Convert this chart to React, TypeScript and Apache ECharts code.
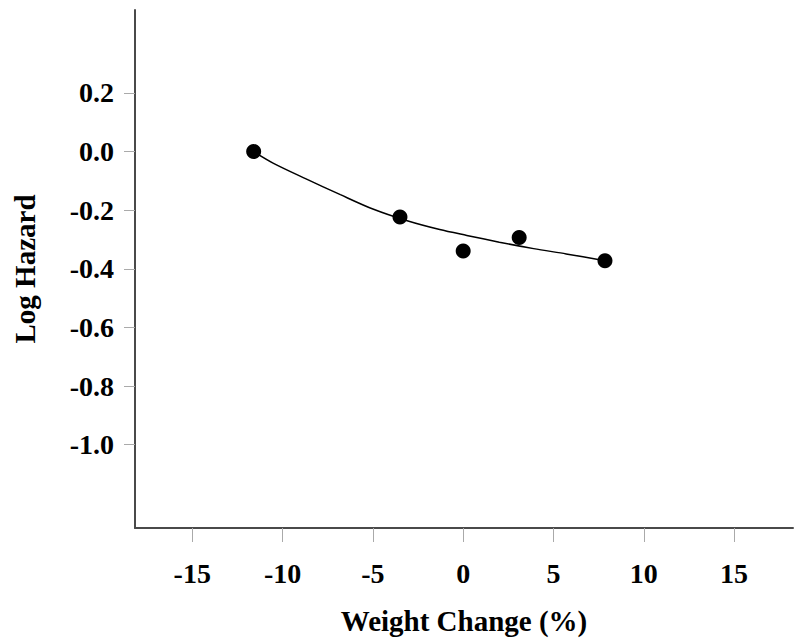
import React, { useEffect, useRef } from "react";
import * as echarts from "echarts";

const pointX = [-11.6, -3.5, 0.0, 3.1, 7.85];
const pointY = [0.0, -0.223, -0.339, -0.293, -0.372];

const curveX = [-11.6, -10.5, -8.7, -6.8, -5.0, -3.1, -1.3, 0.2, 2.0, 3.9, 5.7, 7.85];
const curveY = [0.0, -0.04, -0.093, -0.147, -0.196, -0.236, -0.266, -0.286, -0.309, -0.331, -0.349, -0.372];

const xTicks = [-15, -10, -5, 0, 5, 10, 15];
const yTicks = [0.2, 0.0, -0.2, -0.4, -0.6, -0.8, -1.0];

export default function App() {
  const ref = useRef<HTMLDivElement>(null);
  useEffect(() => {
    if (!ref.current) return;
    const chart = echarts.init(ref.current, undefined, { renderer: "svg" });
    const font = "Liberation Serif";
    chart.setOption({
      animation: false,
      backgroundColor: "#ffffff",
      grid: { left: 135, right: 7, top: 10, bottom: 110, outerBoundsMode: "none", containLabel: false },
      xAxis: {
        type: "value",
        min: -18.17,
        max: 18.26,
        name: "Weight Change (%)",
        nameLocation: "middle",
        nameGap: 78,
        nameTextStyle: { fontFamily: font, fontWeight: "bold", fontSize: 29, color: "#000" },
        axisLine: { show: true, onZero: false, lineStyle: { color: "#4a4a4a", width: 2 } },
        axisTick: { show: true, length: 14, customValues: xTicks, lineStyle: { color: "#aaaaaa", width: 1 } },
        axisLabel: {
          customValues: xTicks,
          margin: 31,
          fontFamily: font,
          fontWeight: "bold",
          fontSize: 28,
          color: "#000",
          formatter: (v: number) => String(v),
        },
        splitLine: { show: false },
      },
      yAxis: {
        type: "value",
        min: -1.284,
        max: 0.483,
        name: "Log Hazard",
        nameLocation: "middle",
        nameGap: 96,
        nameRotate: 90,
        nameTextStyle: { fontFamily: font, fontWeight: "bold", fontSize: 29, color: "#000" },
        axisLine: { show: true, onZero: false, lineStyle: { color: "#4a4a4a", width: 2 } },
        axisTick: { show: true, length: 11, customValues: yTicks, lineStyle: { color: "#aaaaaa", width: 1 } },
        axisLabel: {
          customValues: yTicks,
          margin: 21,
          fontFamily: font,
          fontWeight: "bold",
          fontSize: 28,
          color: "#000",
          formatter: (v: number) => v.toFixed(1),
        },
        splitLine: { show: false },
      },
      series: [
        {
          type: "line",
          data: curveX.map((x, i) => [x, curveY[i]]),
          smooth: 0.3,
          showSymbol: false,
          symbol: "none",
          lineStyle: { color: "#000", width: 1.5 },
          z: 2,
        },
        {
          type: "scatter",
          data: pointX.map((x, i) => [x, pointY[i]]),
          symbol: "circle",
          symbolSize: 15,
          itemStyle: { color: "#000", opacity: 1 },
          z: 3,
        },
      ],
    });
    return () => chart.dispose();
  }, []);
  return <div ref={ref} style={{ width: 800, height: 638, position: "absolute", left: 0, top: 0 }} />;
}
